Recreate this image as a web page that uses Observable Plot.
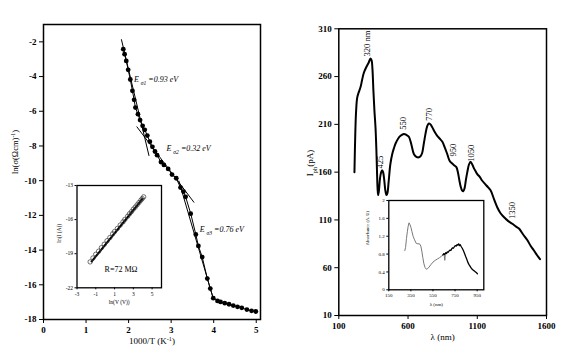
<!DOCTYPE html>
<html><head><meta charset="utf-8">
<script src="https://cdn.jsdelivr.net/npm/d3@7"></script>
<script src="https://cdn.jsdelivr.net/npm/@observablehq/plot@0.6"></script>
<style>
body{margin:0;background:#fff;}
#c{position:relative;width:567px;height:352px;overflow:hidden;background:#fff;}
</style></head><body><div id="c"></div>
<script>
// ---------- Left panel: conductivity vs 1000/T ----------
const invT = [1.875,1.906,1.945,1.99,2.04,2.09,2.13,2.16,2.22,2.27,2.33,2.38,2.44,2.50,2.56,2.62,2.67,2.76,2.83,2.93,3.02,3.12,3.22,3.29,3.34,3.46,3.58,3.64,3.73,3.85,3.92,3.99,4.09,4.16,4.26,4.36,4.46,4.56,4.66,4.78,4.89,4.99];
const lnSigma = [-2.42,-2.71,-3.10,-3.61,-4.17,-4.82,-5.34,-5.79,-6.17,-6.51,-6.84,-7.07,-7.40,-7.75,-8.05,-8.32,-8.53,-8.93,-9.09,-9.32,-9.65,-9.86,-10.40,-10.63,-10.93,-11.9,-13.1,-13.76,-14.4,-15.64,-16.22,-16.77,-16.93,-16.99,-17.06,-17.12,-17.20,-17.27,-17.33,-17.43,-17.50,-17.54];
const fitLines = [
  {x1:1.83,y1:-1.85,x2:2.48,y2:-8.57},
  {x1:2.19,y1:-6.88,x2:3.54,y2:-11.26},
  {x1:3.18,y1:-10.0,x2:3.99,y2:-16.8}
];
const energyLabels = ["E _{σ1} =0.93 eV","E _{σ2} =0.32 eV","E _{σ3} =0.76 eV"];
const energyX = [2.125,2.89,3.67];
const energyY = [-4.15,-8.15,-12.8];
const mainXTicks = [0,1,2,3,4,5];
const mainYTicks = [-18,-16,-14,-12,-10,-8,-6,-4,-2];

// inset: ln(I) vs ln(V)
const lnV = [-1.6,-1.3,-1.0,-0.7,-0.4,-0.1,0.2,0.5,0.8,1.0,1.3,1.6,1.9,2.1,2.4,2.6,2.8,3.0,3.2,3.4,3.6,3.8,3.95,4.1];
const lnI = [-19.72,-19.38,-19.05,-18.78,-18.47,-18.17,-17.86,-17.58,-17.25,-17.05,-16.78,-16.48,-16.2,-15.98,-15.7,-15.48,-15.3,-15.08,-14.9,-14.7,-14.5,-14.3,-14.15,-14.0];
const ivFit = {x1:-1.5,y1:-19.75,x2:4.05,y2:-14.1};
const ivXTicks = [-3,-1,1,3,5];
const ivYTicks = [-22,-19,-16,-13];

// ---------- Right panel: photocurrent spectrum ----------
const lambda = [213,219,225,233,245,257,269,281,299,317,329,337,343,350,357,365,371,376,380,384,390,398,406,413,420,428,436,444,451,460,472,486,498,510,528,546,570,588,606,624,642,660,678,692,702,714,726,738,750,762,775,793,811,829,847,865,883,900,919,935,950,960,970,980,990,999,1008,1018,1028,1040,1052,1064,1076,1088,1100,1118,1136,1166,1196,1220,1245,1268,1292,1322,1353,1380,1401,1430,1461,1485,1509,1532,1553];
const iph = [160,200,224,238,244,249,257,264,270,275,279,277,268,245,225,207,185,160,143,136,141,154,160,162,160,152,141,136,138,150,168,179,185,190,195,198,200,199,197,189,179,176,175.5,177,180,190,200,208,211,210,207,202,198,195,192,186,179,172,169,167,165,160,152,145,141,140,143,152,160,168,171,168,164,161,158,155,151,146,141,132,123,117,113,109,106,103,101,95,89,83,78,73,69];
const peakLabels = ["320 nm","425","550","770","950","1050","1350"];
const peakX = [307,401,567,755,927,1059,1353];
const peakY = [294.6,170.5,211,220.5,183,179.7,120];
const specXTicks = [100,600,1100,1600];
const specYTicks = [10,60,110,160,210,260,310];

// inset: absorbance
const absGrayX = [295,302,310,318,325,333,340,350,360,370,383,398,413,428,440,450,458,468,478,490,500,515,530,550,570,590,610,625,640,650,657,662,670];
const absGrayY = [0.88,0.95,1.15,1.30,1.42,1.50,1.47,1.40,1.30,1.20,1.12,1.04,1.03,1.03,0.98,0.85,0.72,0.58,0.50,0.46,0.47,0.51,0.56,0.62,0.66,0.69,0.72,0.75,0.78,0.80,0.66,0.80,0.82];
const absBlackX = [640,648,655,665,672,680,688,695,705,712,720,728,735,745,752,760,768,775,782,790,797,805,815,825,835,845,855,865,875,885,895,905,915,925,935,945,952];
const absBlackY = [0.78,0.81,0.79,0.83,0.81,0.85,0.84,0.87,0.89,0.88,0.92,0.94,0.93,0.97,0.99,0.98,1.01,1.00,1.03,0.99,1.01,0.97,0.93,0.88,0.82,0.75,0.69,0.62,0.57,0.53,0.49,0.46,0.44,0.42,0.40,0.38,0.36];
const absXTicks = [150,350,550,750,950];
const absYTicks = [0,0.4,0.8,1.2,1.6,2];

// ---------- build ----------
const serif = "Liberation Serif, Times New Roman, serif";
const fmt = d => String(d);
const mainPts = invT.map((x,i)=>({x, y: lnSigma[i]}));
const ivPts = lnV.map((x,i)=>({x, y: lnI[i]}));
const specPts = lambda.map((x,i)=>({x, y: iph[i]}));
const eLab = energyLabels.map((t,i)=>({t, x: energyX[i], y: energyY[i]}));
const pLab = peakLabels.map((t,i)=>({t, x: peakX[i], y: peakY[i]}));
const grayPts = absGrayX.map((x,i)=>({x, y: absGrayY[i]}));
const blackPts = absBlackX.map((x,i)=>({x, y: absBlackY[i]}));

function pos(l,t){return {position:"absolute",left:l+"px",top:t+"px",background:"transparent",overflow:"visible",maxWidth:"none",fontFamily:serif};}

function rich(svg){
  svg.querySelectorAll("text").forEach(t=>{
    const s=t.textContent;
    if(!/[_^]\{/.test(s)) return;
    while(t.firstChild) t.removeChild(t.firstChild);
    const re=/([_^])\{([^}]*)\}/g; let last=0,m;
    const add=(txt,shift)=>{const ts=document.createElementNS("http://www.w3.org/2000/svg","tspan"); ts.textContent=txt; if(shift){ts.setAttribute("baseline-shift",shift); ts.setAttribute("font-size","70%");} t.appendChild(ts);};
    while((m=re.exec(s))){ if(m.index>last) add(s.slice(last,m.index)); add(m[2], m[1]==="^"?"super":"sub"); last=re.lastIndex;}
    if(last<s.length) add(s.slice(last));
  });
  return svg;
}

const c = document.getElementById("c");

// left main
c.appendChild(rich(Plot.plot({
  width:290, height:352, marginLeft:43, marginRight:30, marginTop:24, marginBottom:33,
  style: pos(0,0),
  x:{domain:[0,5.1]}, y:{domain:[-18,-1]},
  marks:[
    Plot.axisX({ticks:mainXTicks, tickFormat:fmt, tickSize:4, tickPadding:3, label:null, fontSize:9, fontWeight:"bold"}),
    Plot.axisY({ticks:mainYTicks, tickFormat:fmt, tickSize:4, tickPadding:3, label:null, fontSize:9, fontWeight:"bold"}),
    Plot.line(mainPts,{x:"x", y:"y", stroke:"#000", strokeWidth:1}),
    Plot.link(fitLines,{x1:"x1",y1:"y1",x2:"x2",y2:"y2", stroke:"#000", strokeWidth:1}),
    Plot.dot(mainPts,{x:"x", y:"y", r:2.4, fill:"#000"}),
    Plot.text(eLab,{x:"x", y:"y", text:"t", textAnchor:"start", fontStyle:"italic", fontSize:8, fill:"#000"}),
    Plot.text(["1000/T (K^{-1})"],{frameAnchor:"bottom", dy:24, fontSize:9}),
    Plot.text(["ln(σ(Ωcm)^{-1})"],{frameAnchor:"left", dx:-28, dy:2, rotate:-90, fontSize:8.5}),
    Plot.frame({stroke:"#000", strokeWidth:1.5})
  ]
})));

// left inset
c.appendChild(rich(Plot.plot({
  width:116, height:135, marginLeft:26.5, marginRight:5, marginTop:10, marginBottom:22.7,
  style: pos(50,175),
  x:{domain:[-3,6]}, y:{domain:[-22,-13]},
  marks:[
    Plot.frame({fill:"#fff"}),
    Plot.axisX({ticks:ivXTicks, tickFormat:fmt, tickSize:2, tickPadding:2, label:null, fontSize:5.5}),
    Plot.axisY({ticks:ivYTicks, tickFormat:fmt, tickSize:2, tickPadding:2, label:null, fontSize:5.5}),
    Plot.link([ivFit],{x1:"x1",y1:"y1",x2:"x2",y2:"y2", stroke:"#000", strokeWidth:2}),
    Plot.dot(ivPts,{x:"x", y:"y", r:2.2, stroke:"#333", strokeWidth:0.7, fill:"none"}),
    Plot.text(["R=72 MΩ"],{x:[1.69], y:[-20.4], fontSize:8}),
    Plot.text(["ln(V (V))"],{frameAnchor:"bottom", dy:16, fontSize:5.5}),
    Plot.text(["ln(I (A))"],{frameAnchor:"left", dx:-18, dy:6, rotate:-90, fontSize:5.5}),
    Plot.frame({stroke:"#000", strokeWidth:1.3})
  ]
})));

// right main
c.appendChild(rich(Plot.plot({
  width:277, height:352, marginLeft:48.3, marginRight:21, marginTop:28.3, marginBottom:37,
  style: pos(290,0),
  x:{domain:[100,1600]}, y:{domain:[10,310]},
  marks:[
    Plot.axisX({ticks:specXTicks, tickFormat:fmt, tickSize:4, tickPadding:3, label:null, fontSize:9, fontWeight:"bold"}),
    Plot.axisY({ticks:specYTicks, tickFormat:fmt, tickSize:4, tickPadding:3, label:null, fontSize:9, fontWeight:"bold"}),
    Plot.line(specPts,{x:"x", y:"y", curve:"catmull-rom", stroke:"#000", strokeWidth:2}),
    Plot.text(pLab,{x:"x", y:"y", text:"t", rotate:-90, fontSize:8.5}),
    Plot.text(["λ (nm)"],{frameAnchor:"bottom", dy:24, fontSize:9}),
    Plot.text(["I_{ph}(pA)"],{frameAnchor:"left", dx:-29, dy:4, rotate:-90, fontSize:9}),
    Plot.frame({stroke:"#000", strokeWidth:1.5})
  ]
})));

// right inset
c.appendChild(rich(Plot.plot({
  width:134.3, height:123.3, marginLeft:33.3, marginRight:6, marginTop:10, marginBottom:24,
  style: pos(355,190),
  x:{domain:[150,1010]}, y:{domain:[0,2]},
  marks:[
    Plot.frame({fill:"#fff"}),
    Plot.axisX({ticks:absXTicks, tickFormat:fmt, tickSize:2, tickPadding:2, label:null, fontSize:5}),
    Plot.axisY({ticks:absYTicks, tickFormat:fmt, tickSize:2, tickPadding:2, label:null, fontSize:5}),
    Plot.line(grayPts,{x:"x", y:"y", stroke:"#777", strokeWidth:1}),
    Plot.line(blackPts,{x:"x", y:"y", stroke:"#000", strokeWidth:1.3}),
    Plot.text(["λ (nm)"],{frameAnchor:"bottom", dy:16, fontSize:5}),
    Plot.text(["Absorbance (A. U)"],{frameAnchor:"left", dx:-21, rotate:-90, fontSize:4.5}),
    Plot.frame({stroke:"#000", strokeWidth:1.3})
  ]
})));
</script>
</body></html>
